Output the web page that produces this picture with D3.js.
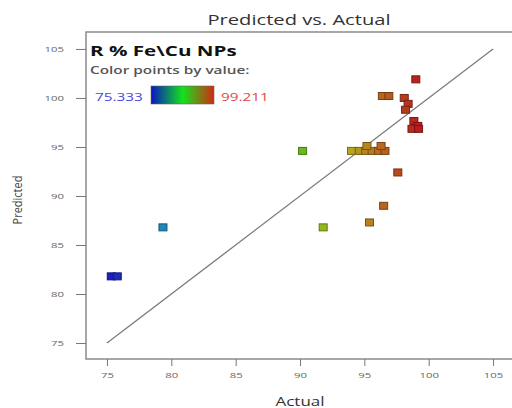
<!DOCTYPE html>
<html>
<head>
<meta charset="utf-8">
<script src="https://cdn.jsdelivr.net/npm/d3@7/dist/d3.min.js"></script>
<style>
  html, body { margin: 0; padding: 0; background: #fff; overflow: hidden; }
  svg { display: block; font-family: "Open Sans", "DejaVu Sans", sans-serif; }
</style>
</head>
<body>
<svg id="chart" width="512" height="408"></svg>
<script>
// Run results: actual vs. model-predicted response
const actual    = [75.333, 75.8, 79.35, 90.2, 91.8, 94.0, 94.6, 95.1, 95.6, 96.1, 96.6, 95.2, 96.3, 95.4, 96.5, 97.6, 96.4, 96.9, 99.0, 98.1, 98.4, 98.2, 98.85, 99.15, 98.7, 99.211];
const predicted = [81.8, 81.8, 86.8, 94.6, 86.8, 94.6, 94.6, 94.6, 94.6, 94.6, 94.6, 95.1, 95.1, 87.3, 89.0, 92.4, 100.2, 100.2, 101.9, 100.0, 99.4, 98.8, 97.65, 97.15, 96.85, 96.85];
const tickValues = [75, 80, 85, 90, 95, 100, 105];
const colorRange = [75.333, 99.211];
const legendStops = ["#0a14c4", "#12e21e", "#d42a10"];

const svg = d3.select("#chart");
const SX = 1.42; // horizontal text stretch

const x = d3.scaleLinear().domain([73.37, 106.9]).range([86, 517.5]);
const y = d3.scaleLinear().domain([73.37, 106.73]).range([359, 32]);

// hue runs from blue (low) through green to red (high)
const hue = d3.scaleLinear().domain(colorRange).range([240, 0]).clamp(true);
const fillOf = v => d3.hsl(hue(v), 0.72, 0.42).toString();

function stretched(g, tx, ty, txt, opts) {
  return g.append("text")
    .attr("transform", `translate(${tx},${ty}) scale(${SX},1)`)
    .attr("text-anchor", opts.anchor || "start")
    .attr("font-size", opts.size)
    .attr("font-weight", opts.weight || "normal")
    .attr("fill", opts.fill || "#333")
    .text(txt);
}

// frame (open on the right, runs past the edge)
svg.append("path")
  .attr("d", "M600,32 H86 V359 H600")
  .attr("fill", "none").attr("stroke", "#8a8a8a").attr("stroke-width", 1.5);

// axes
const yAxis = svg.append("g").attr("transform", "translate(86,0)")
  .call(d3.axisLeft(y).tickValues(tickValues).tickSize(10).tickSizeOuter(0));
const xAxis = svg.append("g").attr("transform", "translate(0,359)")
  .call(d3.axisBottom(x).tickValues(tickValues).tickSize(7).tickSizeOuter(0));

[yAxis, xAxis].forEach(a => {
  a.select(".domain").remove();
  a.selectAll(".tick line").attr("stroke", "#777").attr("stroke-width", 1);
  a.selectAll(".tick text").attr("fill", "#666").attr("font-size", 8)
    .attr("font-family", "'Open Sans', 'DejaVu Sans', sans-serif");
});
yAxis.selectAll(".tick text").attr("x", -22 / SX).attr("dy", "0.35em")
  .attr("transform", `scale(${SX},1)`);
xAxis.selectAll(".tick text").attr("y", 13).attr("dy", "0.71em")
  .attr("transform", `scale(${SX},1)`);

// reference line y = x
svg.append("line")
  .attr("x1", x(75)).attr("y1", y(75))
  .attr("x2", x(105)).attr("y2", y(105))
  .attr("stroke", "#7a7a7a").attr("stroke-width", 1.3);

// points
const pts = actual.map((a, i) => ({ a, p: predicted[i] }));
svg.append("g").selectAll("rect").data(pts).join("rect")
  .attr("x", d => x(d.a) - 4).attr("y", d => y(d.p) - 3.5)
  .attr("width", 8).attr("height", 7)
  .attr("fill", d => fillOf(d.a))
  .attr("stroke", d => d3.hsl(fillOf(d.a)).darker(1.2).toString())
  .attr("stroke-width", 1);

// titles
stretched(svg, 299, 25, "Predicted vs. Actual", { anchor: "middle", size: 14.2, fill: "#333" });
stretched(svg, 300, 406, "Actual", { anchor: "middle", size: 12, fill: "#333" });
svg.append("text")
  .attr("transform", "translate(22,200) rotate(-90) scale(1.1,1.2)")
  .attr("text-anchor", "middle").attr("font-size", 10).attr("fill", "#444")
  .text("Predicted");

// legend
const lg = svg.append("g");
stretched(lg, 90, 56, "R % Fe\\Cu NPs", { size: 14.5, weight: "bold", fill: "#111" });
stretched(lg, 90, 74, "Color points by value:", { size: 10.8, weight: "600", fill: "#555" });
stretched(lg, 95, 101, colorRange[0].toFixed(3), { size: 10.8, fill: "#4848d8" });
stretched(lg, 221, 101, colorRange[1].toFixed(3), { size: 10.8, fill: "#e04848" });

const grad = svg.append("defs").append("linearGradient").attr("id", "valgrad");
grad.selectAll("stop").data(legendStops).join("stop")
  .attr("offset", (d, i) => i / (legendStops.length - 1))
  .attr("stop-color", d => d);
lg.append("rect").attr("x", 151).attr("y", 86).attr("width", 63).attr("height", 18)
  .attr("fill", "url(#valgrad)").attr("stroke", "#666").attr("stroke-width", 0.6);
</script>
</body>
</html>
